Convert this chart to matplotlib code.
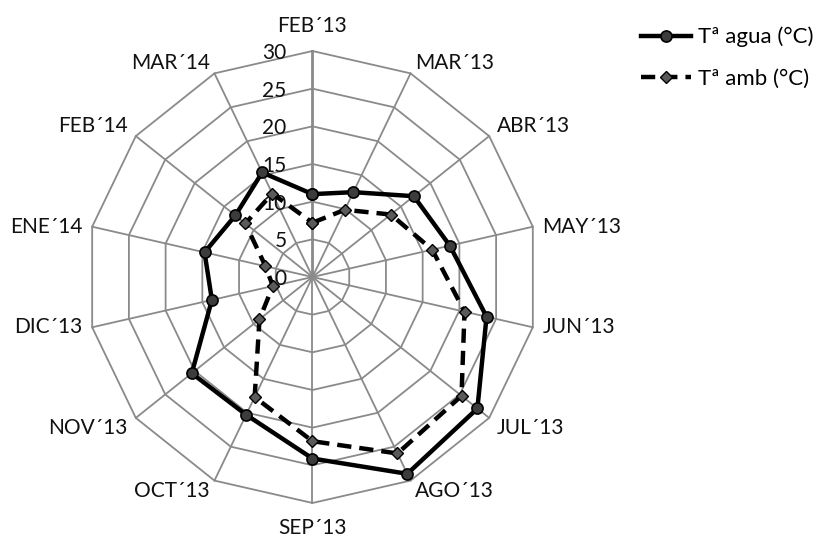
import matplotlib
matplotlib.use("Agg")
import matplotlib.pyplot as plt
import numpy as np

plt.rcParams['font.family'] = ['Lato', 'DejaVu Sans']

months = ["FEB´13", "MAR´13", "ABR´13", "MAY´13", "JUN´13", "JUL´13", "AGO´13",
          "SEP´13", "OCT´13", "NOV´13", "DIC´13", "ENE´14", "FEB´14", "MAR´14"]
t_agua = [11.0, 12.5, 17.2, 18.7, 23.7, 28.0, 29.0, 24.1, 20.3, 20.5, 13.7, 14.7, 13.1, 15.4]
t_amb = [7.2, 9.9, 13.3, 16.3, 20.7, 25.3, 26.0, 21.8, 17.7, 9.0, 5.4, 6.4, 11.4, 12.3]
levels = [0, 5, 10, 15, 20, 25, 30]

grid_col = "#8a8a8a"
fs = 15

n = len(months)
theta = np.arange(n) * 2 * np.pi / n
theta_c = np.append(theta, theta[0])

fig = plt.figure(figsize=(8.31, 5.38), dpi=100)
ax = fig.add_axes([0.1041, 0.0651, 0.5439, 0.8401], projection="polar")
ax.set_theta_zero_location("N")
ax.set_theta_direction(-1)
ax.set_ylim(0, levels[-1])
ax.grid(False)
ax.spines["polar"].set_visible(False)
ax.patch.set_visible(False)
ax.set_xticks([])
ax.set_yticks([])

# polygon web
for r in levels[1:]:
    ax.plot(theta_c, [r] * (n + 1), color=grid_col, lw=1.3, zorder=1, clip_on=False)
for i, t in enumerate(theta):
    ax.plot([t, t], [0, levels[-1]], color=grid_col, lw=2.0 if i == 0 else 1.3,
            zorder=1, clip_on=False)

# radial value labels along the first spoke
for r in levels:
    ax.annotate(str(r), xy=(0, r), xytext=(-26, -2), textcoords="offset pixels",
                ha="right", va="center", fontsize=fs, color="#111111", zorder=3)

# month labels around the web
for t, lab in zip(theta, months):
    s, c = np.sin(t), np.cos(t)
    if abs(s) < 0.1:
        ha = "center"
        va = "bottom" if c > 0 else "top"
        off = (0, 15 if c > 0 else -15)
    else:
        ha = "left" if s > 0 else "right"
        va = "bottom" if c > 0.5 else ("top" if c < -0.5 else "center")
        off = (10 * s, 0)
    ax.annotate(lab, xy=(t, levels[-1]), xytext=off, textcoords="offset pixels",
                ha=ha, va=va, fontsize=fs, color="#111111", annotation_clip=False)

ax.plot(theta_c, np.append(t_agua, t_agua[0]), color="black", lw=3.2,
        marker="o", ms=8, mfc="#3c3c3c", mec="black", mew=1.2,
        label="Tª agua (°C)", zorder=4, clip_on=False)
ax.plot(theta_c, np.append(t_amb, t_amb[0]), color="black", lw=3.2,
        ls=(0, (3.2, 1.8)), marker="D", ms=6.5, mfc="#5a5a5a", mec="black", mew=1.0,
        label="Tª amb (°C)", zorder=4, clip_on=False)

fig.legend(loc="center left", bbox_to_anchor=(0.771, 0.893), frameon=False,
           fontsize=16, handlelength=2.25, handletextpad=0.33, labelspacing=0.95,
           borderpad=0, borderaxespad=0)

fig.savefig("out.png", dpi=100)
